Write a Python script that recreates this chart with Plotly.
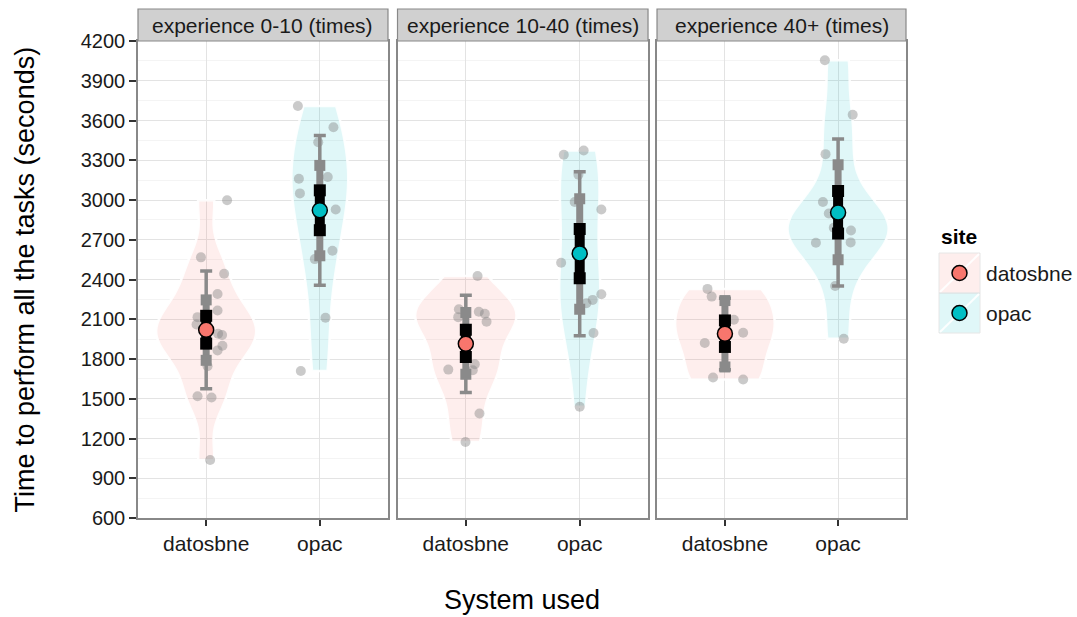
import numpy as np
import plotly.graph_objects as go

# ---------------- data ----------------
panel_titles = ["experience 0-10 (times)", "experience 10-40 (times)", "experience 40+ (times)"]
sites = ["datosbne", "opac"]

# individual observations (seconds) and their horizontal jitter (category units)
p1_datosbne_time = [2998, 2567, 2444, 2291, 2166, 2116, 2061, 1991, 1981, 1900, 1865, 1745, 1519, 1510, 1038]
p1_datosbne_jit = [0.184, -0.046, 0.158, 0.10, 0.10, -0.076, -0.085, 0.105, 0.14, 0.143, 0.10, 0.012, -0.076, 0.047, 0.035]
p1_opac_time = [3709, 3549, 3436, 3173, 3161, 3050, 2928, 2617, 2554, 2111, 1710]
p1_opac_jit = [-0.193, 0.12, -0.014, 0.07, -0.184, -0.175, 0.14, 0.111, -0.044, 0.05, -0.167]

p2_datosbne_time = [2426, 2176, 2156, 2141, 2116, 2081, 1760, 1720, 1715, 1389, 1174]
p2_datosbne_jit = [0.103, -0.061, 0.114, 0.167, -0.067, 0.182, 0.079, -0.154, 0.061, 0.12, -0.003]
p2_opac_time = [3373, 3341, 3191, 2985, 2928, 2527, 2289, 2246, 2221, 1996, 1440]
p2_opac_jit = [0.035, -0.14, -0.011, -0.044, 0.19, -0.163, 0.19, 0.114, 0.059, 0.121, 0.0]

p3_datosbne_time = [2329, 2271, 2096, 1998, 1921, 1660, 1645]
p3_datosbne_jit = [-0.154, -0.117, 0.079, 0.161, -0.178, -0.105, 0.161]
p3_opac_time = [4055, 3644, 3346, 2985, 2898, 2790, 2770, 2680, 2677, 2351, 1953]
p3_opac_jit = [-0.117, 0.129, -0.111, -0.134, -0.082, -0.038, 0.114, 0.111, -0.196, -0.026, 0.05]

# summary statistics per panel
datosbne_mean = [2021, 1915, 1991]
datosbne_sd_lo = [1575, 1547, 1719]
datosbne_sd_hi = [2464, 2281, 2259]
datosbne_ci_lo = [1790, 1685, 1740]
datosbne_ci_hi = [2246, 2151, 2241]
datosbne_se_lo = [1916, 1815, 1891]
datosbne_se_hi = [2126, 2021, 2091]

opac_mean = [2922, 2597, 2905]
opac_sd_lo = [2356, 1976, 2351]
opac_sd_hi = [3486, 3213, 3461]
opac_ci_lo = [2579, 2176, 2549]
opac_ci_hi = [3261, 3010, 3266]
opac_se_lo = [2772, 2409, 2747]
opac_se_hi = [3073, 2782, 3068]

y_ticks = [600, 900, 1200, 1500, 1800, 2100, 2400, 2700, 3000, 3300, 3600, 3900, 4200]

# ---------------- styles ----------------
FONT = "Liberation Sans, Arial, Helvetica, sans-serif"
site_color = {"datosbne": "#F8766D", "opac": "#00BFC4"}
site_fill = {"datosbne": "rgba(248,118,109,0.12)", "opac": "rgba(0,191,196,0.12)"}
violin_width = {  # full violin width (category units) per panel / site
    (0, "datosbne"): 0.88, (0, "opac"): 0.50,
    (1, "datosbne"): 0.89, (1, "opac"): 0.36,
    (2, "datosbne"): 0.88, (2, "opac"): 0.89,
}
GRAY = "#8a8a8a"
domains = [[0.0, 0.3255], [0.3379, 0.6641], [0.6758, 1.0]]

times = {
    (0, "datosbne"): (p1_datosbne_time, p1_datosbne_jit), (0, "opac"): (p1_opac_time, p1_opac_jit),
    (1, "datosbne"): (p2_datosbne_time, p2_datosbne_jit), (1, "opac"): (p2_opac_time, p2_opac_jit),
    (2, "datosbne"): (p3_datosbne_time, p3_datosbne_jit), (2, "opac"): (p3_opac_time, p3_opac_jit),
}
summary = {
    "datosbne": dict(mean=datosbne_mean, sd_lo=datosbne_sd_lo, sd_hi=datosbne_sd_hi,
                     ci_lo=datosbne_ci_lo, ci_hi=datosbne_ci_hi, se_lo=datosbne_se_lo, se_hi=datosbne_se_hi),
    "opac": dict(mean=opac_mean, sd_lo=opac_sd_lo, sd_hi=opac_sd_hi,
                 ci_lo=opac_ci_lo, ci_hi=opac_ci_hi, se_lo=opac_se_lo, se_hi=opac_se_hi),
}


def nrd0(v):
    v = np.asarray(v, dtype=float)
    sd = v.std(ddof=1)
    iqr = np.percentile(v, 75) - np.percentile(v, 25)
    lo = min(sd, iqr / 1.34) if iqr > 0 else sd
    return 0.9 * lo * len(v) ** -0.2


fig = go.Figure()

for p in range(3):
    xa = "x" if p == 0 else f"x{p + 1}"
    ya = "y" if p == 0 else f"y{p + 1}"
    for si, site in enumerate(sites):
        pos = si + 1
        t, j = times[(p, site)]
        fig.add_trace(go.Violin(
            x=[pos] * len(t), y=t, xaxis=xa, yaxis=ya,
            width=violin_width[(p, site)], scalegroup=f"g{p}{site}", scalemode="width",
            spanmode="hard", bandwidth=nrd0(t), points=False,
            fillcolor=site_fill[site], line=dict(color="rgba(255,255,255,0.9)", width=2.5),
            box_visible=False, meanline_visible=False, showlegend=False, hoverinfo="skip",
        ))
    for si, site in enumerate(sites):
        pos = si + 1
        t, j = times[(p, site)]
        fig.add_trace(go.Scatter(
            x=[pos + d for d in j], y=t, xaxis=xa, yaxis=ya, mode="markers",
            marker=dict(size=10, color="rgba(128,128,128,0.42)", line=dict(width=0)),
            showlegend=False, hoverinfo="y",
        ))
    for si, site in enumerate(sites):
        pos = si + 1
        s = summary[site]
        m = s["mean"][p]
        fig.add_trace(go.Scatter(
            x=[pos], y=[m], xaxis=xa, yaxis=ya, mode="markers",
            marker=dict(size=1, opacity=0),
            error_y=dict(type="data", symmetric=False, array=[s["sd_hi"][p] - m],
                         arrayminus=[m - s["sd_lo"][p]], color=GRAY, thickness=3.5, width=6),
            showlegend=False, hoverinfo="skip",
        ))
        fig.add_trace(go.Scatter(
            x=[pos, pos], y=[s["ci_lo"][p], s["ci_hi"][p]], xaxis=xa, yaxis=ya,
            mode="lines+markers", line=dict(color=GRAY, width=7),
            marker=dict(symbol="square", size=11, color=GRAY),
            showlegend=False, hoverinfo="skip",
        ))
        fig.add_trace(go.Scatter(
            x=[pos, pos], y=[s["se_lo"][p], s["se_hi"][p]], xaxis=xa, yaxis=ya,
            mode="lines+markers", line=dict(color="black", width=10),
            marker=dict(symbol="square", size=12, color="black"),
            showlegend=False, hoverinfo="skip",
        ))
        fig.add_trace(go.Scatter(
            x=[pos], y=[m], xaxis=xa, yaxis=ya, mode="markers",
            marker=dict(symbol="circle", size=15, color=site_color[site], line=dict(color="black", width=1.5)),
            name=site, showlegend=False,
        ))

layout = dict(
    width=1077, height=617,
    margin=dict(l=138, r=171, t=41, b=99),
    paper_bgcolor="white", plot_bgcolor="white",
    violinmode="overlay",
    font=dict(family=FONT, color="#1a1a1a"),
    showlegend=False,
)
for p in range(3):
    xk = "xaxis" if p == 0 else f"xaxis{p + 1}"
    yk = "yaxis" if p == 0 else f"yaxis{p + 1}"
    layout[xk] = dict(
        domain=domains[p], anchor="y" if p == 0 else f"y{p + 1}", type="linear",
        range=[0.4, 2.6], tickmode="array", tickvals=[1, 2], ticktext=sites,
        ticks="outside", ticklen=6, tickwidth=2, tickcolor="#333333",
        tickfont=dict(size=21, family=FONT, color="#1a1a1a"),
        showline=True, mirror=True, linecolor="#888888", linewidth=1.5,
        showgrid=True, gridcolor="#e3e3e3", gridwidth=1, zeroline=False, fixedrange=True,
    )
    layout[yk] = dict(
        anchor="x" if p == 0 else f"x{p + 1}", range=[600, 4200],
        tickmode="array", tickvals=y_ticks,
        ticks="outside" if p == 0 else "", ticklen=7, tickwidth=2, tickcolor="#333333",
        showticklabels=(p == 0), tickfont=dict(size=20, family=FONT, color="#1a1a1a"),
        showline=True, mirror=True, linecolor="#888888", linewidth=1.5,
        showgrid=True, gridcolor="#e3e3e3", gridwidth=1, zeroline=False,
        minor=dict(dtick=150, tick0=600, showgrid=True, gridcolor="#f4f4f4", gridwidth=1),
        fixedrange=True,
    )
    if p > 0:
        layout[yk]["matches"] = "y"

H = 477.0
W = 768.0


def px_x(px):
    return (px - 138) / W


def px_y(py):
    return (518 - py) / H


shapes = []
annotations = []
for p in range(3):
    d0, d1 = domains[p]
    shapes.append(dict(type="rect", xref="paper", yref="paper", x0=d0, x1=d1, y0=1.0, y1=1 + 32 / H,
                       fillcolor="#d0d0d0", line=dict(color="#888888", width=1.2), layer="above"))
    annotations.append(dict(text=panel_titles[p], xref="paper", yref="paper", x=(d0 + d1) / 2, y=1 + 16 / H,
                            xanchor="center", yanchor="middle", showarrow=False,
                            font=dict(size=21, family=FONT, color="#1a1a1a")))

annotations.append(dict(text="System used", xref="paper", yref="paper", x=0.5, y=px_y(600),
                        xanchor="center", yanchor="middle", showarrow=False,
                        font=dict(size=27, family=FONT, color="black")))
annotations.append(dict(text="Time to perform all the tasks (seconds)", xref="paper", yref="paper",
                        x=px_x(24), y=0.5, xanchor="center", yanchor="middle", textangle=-90,
                        showarrow=False, font=dict(size=27, family=FONT, color="black")))

# legend (drawn manually to match key boxes)
annotations.append(dict(text="<b>site</b>", xref="paper", yref="paper", x=px_x(939), y=px_y(236),
                        xanchor="left", yanchor="middle", showarrow=False,
                        font=dict(size=21, family=FONT, color="black")))
for k, site in enumerate(sites):
    top = 253 + 40 * k
    shapes.append(dict(type="rect", xref="paper", yref="paper", x0=px_x(939), x1=px_x(980),
                       y0=px_y(top + 40), y1=px_y(top), fillcolor=site_fill[site],
                       line=dict(color="#e6e6e6", width=1)))
    shapes.append(dict(type="line", xref="paper", yref="paper", x0=px_x(940), x1=px_x(979),
                       y0=px_y(top + 39), y1=px_y(top + 1), line=dict(color="rgba(255,255,255,0.9)", width=2)))
    shapes.append(dict(type="circle", xref="paper", yref="paper", xsizemode="pixel", ysizemode="pixel",
                       xanchor=px_x(959.5), yanchor=px_y(top + 20), x0=-7.5, x1=7.5, y0=-7.5, y1=7.5,
                       fillcolor=site_color[site], line=dict(color="black", width=1.5)))
    annotations.append(dict(text=site, xref="paper", yref="paper", x=px_x(984), y=px_y(top + 20),
                            xanchor="left", yanchor="middle", showarrow=False,
                            font=dict(size=21, family=FONT, color="#1a1a1a")))

layout["shapes"] = shapes
layout["annotations"] = annotations
fig.update_layout(**layout)

fig.write_html("out.html", config={"displayModeBar": False},
               post_script="document.body.style.margin='0';document.body.style.overflow='hidden';")
